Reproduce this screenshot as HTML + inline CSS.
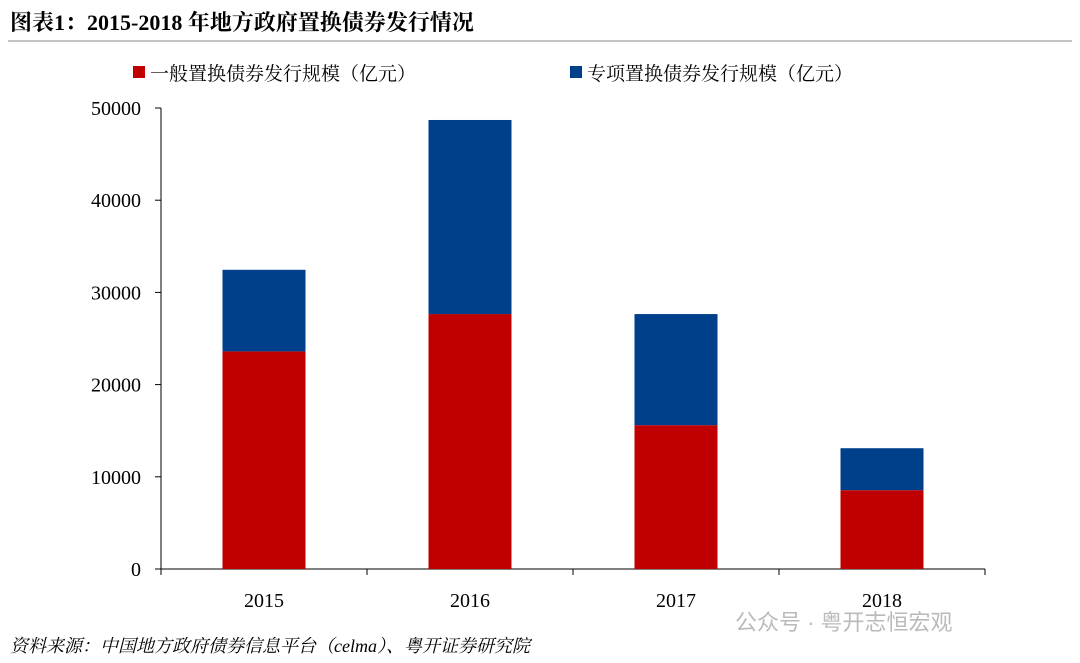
<!DOCTYPE html>
<html><head><meta charset="utf-8"><style>
body{margin:0;width:1080px;height:663px;background:#fff;overflow:hidden;font-family:"Liberation Serif","Noto Serif CJK SC",serif;}
svg{display:block}
</style></head><body>
<svg width="1080" height="663" xmlns="http://www.w3.org/2000/svg">
<text x="10" y="30" font-size="22" font-weight="bold" fill="#000" font-family="Liberation Serif,Noto Serif CJK SC,serif">图表1：2015-2018 年地方政府置换债券发行情况</text>
<line x1="8" y1="41" x2="1072" y2="41" stroke="#888" stroke-width="1"/>
<g font-size="19" font-family="Liberation Serif,Noto Serif CJK SC,serif">
<rect x="133" y="66" width="12" height="12" fill="#c00000"/>
<text x="150" y="80">一般置换债券发行规模（亿元）</text>
<rect x="570" y="66" width="12" height="12" fill="#003f8a"/>
<text x="587" y="80">专项置换债券发行规模（亿元）</text>
</g>
<g id="axes"></g>
<g id="bars"></g>
<text x="10" y="652" font-size="18" font-style="italic" fill="#000" font-family="Liberation Serif,Noto Serif CJK SC,serif">资料来源：中国地方政府债券信息平台（celma）、粤开证券研究院</text>
<text x="735" y="630" font-size="22" fill="#aaa" opacity="0.8" font-family="Liberation Sans,Noto Sans CJK SC,sans-serif">公众号 · 粤开志恒宏观</text>
</svg>
<script>
const categories=["2015","2016","2017","2018"];
const generalValues=[23600,27650,15600,8550];
const specialValues=[8850,21050,12050,4550];
const yTicks=[0,10000,20000,30000,40000,50000];
const NS="http://www.w3.org/2000/svg";
const x0=161,x1=985,yBase=569,yTop=108,yMax=50000;
const y=v=>yBase-(v/yMax)*(yBase-yTop);
const band=(x1-x0)/categories.length;
const xc=i=>x0+band*(i+0.5);
function mk(tag,attrs,parent){const e=document.createElementNS(NS,tag);for(const k in attrs)e.setAttribute(k,attrs[k]);parent.appendChild(e);return e;}
const axes=document.getElementById('axes'),bars=document.getElementById('bars');
let a=mk('line',{x1:x0,y1:yTop,x2:x0,y2:yBase,stroke:'#000'},axes);


a=mk('line',{x1:x0,y1:yBase,x2:x1,y2:yBase,stroke:'#000'},axes);


yTicks.forEach(t=>{
  const tk=mk('line',{x1:x0-6,y1:y(t),x2:x0,y2:y(t),stroke:'#000'},axes);
  
  
  const lb=mk('text',{x:x0-20,y:y(t)+7,'text-anchor':'end','font-size':20},axes);
  lb.textContent=t;
  
  
});
for(let i=0;i<=categories.length;i++){
  const tk=mk('line',{x1:x0+band*i,y1:yBase,x2:x0+band*i,y2:yBase+6,stroke:'#000'},axes);
  
  
}
const bw=83;
categories.forEach((c,i)=>{
  const g=generalValues[i],s=specialValues[i];
  const r1=mk('rect',{x:xc(i)-bw/2,y:y(g),width:bw,height:yBase-y(g),fill:'#c00000'},bars);
  
  
  const r2=mk('rect',{x:xc(i)-bw/2,y:y(g+s),width:bw,height:y(g)-y(g+s),fill:'#003f8a'},bars);
  
  
  const lb=mk('text',{x:xc(i),y:yBase+38,'text-anchor':'middle','font-size':20},axes);
  lb.textContent=c;
  
  
});
</script>
</body></html>
